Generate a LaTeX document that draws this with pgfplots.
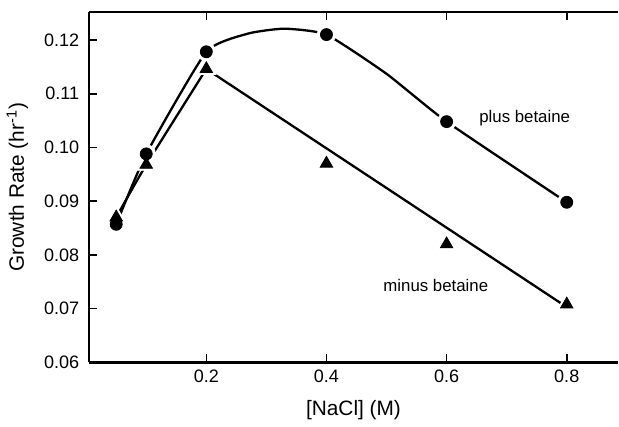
\documentclass[border=0pt]{standalone}
\usepackage{fontspec}
\setmainfont{Liberation Sans}
\usepackage{pgfplots}
\pgfplotsset{compat=1.18}

% growth rate vs NaCl, with and without betaine
\pgfplotstableread{
x y
0.05 0.0857
0.10 0.0988
0.20 0.1178
0.40 0.1210
0.60 0.1048
0.80 0.0898
}\plusdata
\pgfplotstableread{
x y
0.05 0.0870
0.10 0.0968
0.20 0.1146
0.40 0.0970
0.60 0.0820
0.80 0.0708
}\minusdata
% drawn curve through the plus betaine points
\pgfplotstableread{
x y
0.05 0.0857
0.10 0.0988
0.20 0.1178
0.27 0.1212
0.33 0.1221
0.40 0.1210
0.50 0.1137
0.60 0.1048
0.80 0.0898
}\pluscurve

\begin{document}
\begin{tikzpicture}
\begin{axis}[
    scale only axis,
    width=264pt, height=175pt,
    xmin=0.005, xmax=0.885,
    ymin=0.06, ymax=0.1252,
    axis x line*=box, axis y line*=left,
    tick align=inside,
    major tick length=4pt,
    xtick={0.2,0.4,0.6,0.8},
    ytick={0.06,0.07,0.08,0.09,0.10,0.11,0.12},
    xticklabels={0.2,0.4,0.6,0.8},
    yticklabels={0.06,0.07,0.08,0.09,0.10,0.11,0.12},
    tick label style={font=\fontsize{9}{10}\selectfont},
    yticklabel style={xshift=-1.5pt},
    xlabel={[NaCl] (M)},
    ylabel={Growth Rate (hr\textsuperscript{-1})},
    label style={font=\fontsize{10.4}{12}\selectfont},
    xlabel style={yshift=-2pt},
    ylabel style={yshift=1pt},
    axis line style={line width=1.2pt},
    tick style={line width=0.8pt, black},
    clip=false,
]
% curves
\addplot[black, line width=1.15pt, smooth, tension=0.3] table {\pluscurve};
\addplot[black, line width=1.15pt, smooth, tension=0.3] coordinates {(0.05,0.0870) (0.10,0.0968) (0.20,0.1146)};
\addplot[black, line width=1.15pt] coordinates {(0.20,0.1146) (0.80,0.0703)};
% white halos
\addplot[only marks, mark=*, mark size=4.6pt, white] table {\plusdata};
\addplot[only marks, mark=triangle*, mark size=5.6pt, white] table {\minusdata};
% markers
\addplot[only marks, mark=triangle*, mark size=3.6pt, black] table {\minusdata};
\addplot[only marks, mark=*, mark size=3pt, black] table {\plusdata};
\node[font=\fontsize{8.4}{10}\selectfont] at (axis cs:0.73,0.1055) {plus betaine};
\node[font=\fontsize{8.4}{10}\selectfont] at (axis cs:0.582,0.0743) {minus betaine};
\end{axis}
\path (current axis.north east) ++(0,6pt) coordinate (topedge);
\path (topedge);
\end{tikzpicture}
\end{document}
